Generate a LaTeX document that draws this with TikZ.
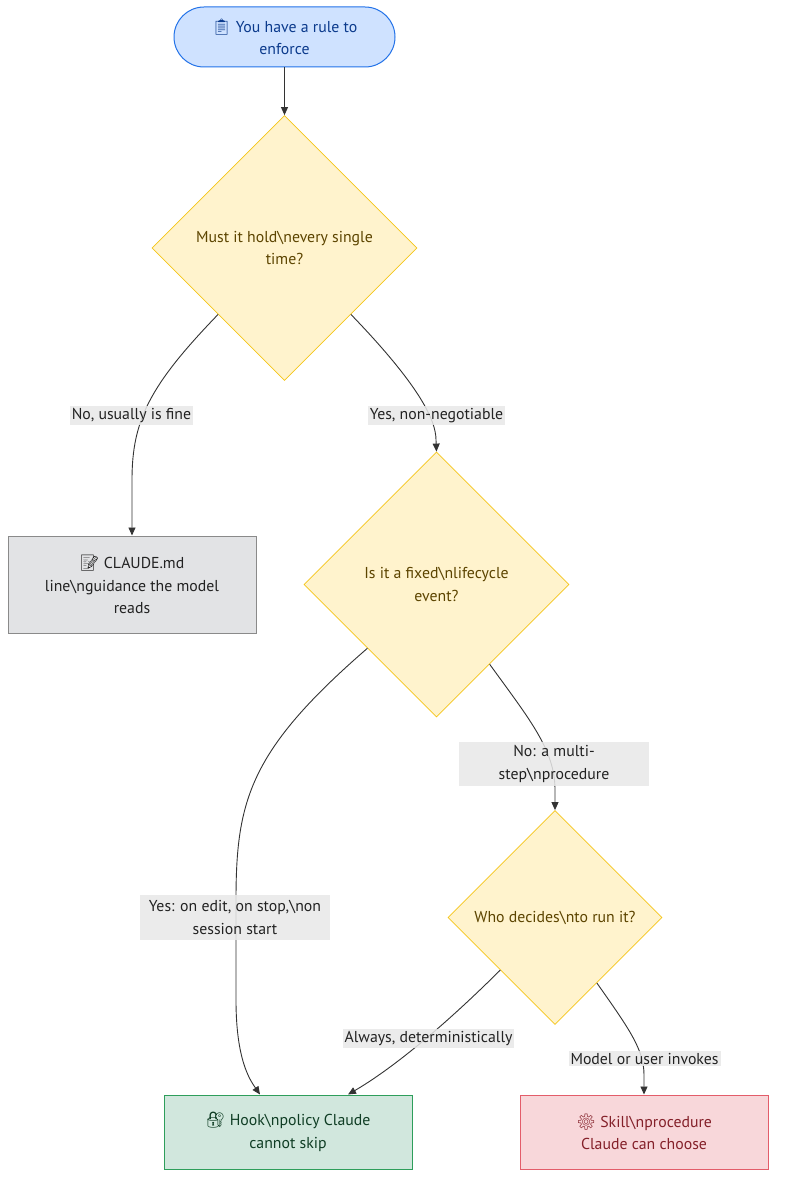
\documentclass[tikz,border=0pt]{standalone}
\usepackage{fontspec}
\setmainfont{PT Sans}
\newfontfamily\emoji{Noto Emoji}
\usetikzlibrary{shapes.geometric,shapes.misc,arrows.meta,calc}
\definecolor{startfill}{HTML}{CFE2FF}
\definecolor{startdraw}{HTML}{2272E8}
\definecolor{starttext}{HTML}{0B3A8C}
\definecolor{decfill}{HTML}{FFF3CD}
\definecolor{decdraw}{HTML}{F5C518}
\definecolor{dectext}{HTML}{5C4400}
\definecolor{greyfill}{HTML}{E2E3E5}
\definecolor{greydraw}{HTML}{8A8A8A}
\definecolor{greytext}{HTML}{222222}
\definecolor{hookfill}{HTML}{D1E7DD}
\definecolor{hookdraw}{HTML}{2E9E5B}
\definecolor{hooktext}{HTML}{0F3D24}
\definecolor{skillfill}{HTML}{F8D7DA}
\definecolor{skilldraw}{HTML}{E35D6A}
\definecolor{skilltext}{HTML}{842029}
\definecolor{edgecol}{HTML}{333333}
\definecolor{lblfill}{HTML}{E8E8E8}
\newcommand{\myBS}{\textbackslash n}
\tikzset{
  every node/.style={font=\fontsize{15.8}{22.5}\selectfont, align=center, inner sep=0pt},
  startnode/.style={rounded rectangle, fill=startfill, draw=startdraw, line width=1pt, text=starttext, minimum width=221pt, minimum height=60pt},
  decnode/.style={diamond, aspect=1, fill=decfill, draw=decdraw, line width=0.8pt, text=dectext},
  boxnode/.style={rectangle, line width=1pt, minimum width=248pt},
  lbl/.style={fill=lblfill, fill opacity=0.85, text opacity=1, text=greytext, inner xsep=2pt, inner ysep=2pt},
  conn/.style={draw=edgecol, line width=0.9pt, -{Triangle[length=8pt,width=7pt]}},
}
\begin{document}
\begin{tikzpicture}[x=1pt,y=-1pt]
\useasboundingbox (0,0) rectangle (784,1190);
\node[startnode] (start) at (284.5,37) {{\emoji 📋} You have a rule to\\enforce};
\node[decnode, minimum size=265pt] (d1) at (284.5,248) {Must it hold\myBS every single\\time?};
\node[decnode, minimum size=265pt] (d2) at (436.5,584.5) {Is it a fixed\myBS lifecycle\\event?};
\node[decnode, minimum size=214pt] (d3) at (555,917.5) {Who decides\myBS to run it?};
\node[boxnode, fill=greyfill, draw=greydraw, text=greytext, minimum height=97pt] (claude) at (132,584.5) {{\emoji 📝} CLAUDE.md\\line\myBS guidance the model\\reads};
\node[boxnode, fill=hookfill, draw=hookdraw, text=hooktext, minimum height=74pt] (hook) at (288,1132) {{\emoji 🔐} Hook\myBS policy Claude\\cannot skip};
\node[boxnode, fill=skillfill, draw=skilldraw, text=skilltext, minimum height=74pt] (skill) at (644,1132) {{\emoji ⚙} Skill\myBS procedure\\Claude can choose};

\coordinate (d1l) at (d1.south west);
\coordinate (d1r) at (d1.south east);
\coordinate (d2l) at ($(d2.west)!0.48!(d2.south)$);
\coordinate (d2r) at ($(d2.east)!0.6!(d2.south)$);
\coordinate (d3l) at ($(d3.west)!0.49!(d3.south)$);
\coordinate (d3r) at ($(d3.east)!0.61!(d3.south)$);
\coordinate (hookl) at ($(hook.north)+(-28,0)$);
\coordinate (hookr) at ($(hook.north)+(60,0)$);

\draw[conn] (start.south) -- (d1.north);
\draw[conn] (d1l) .. controls (150,385) and (132,420) .. (132,480) -- (claude.north);
\draw[conn] (d1r) .. controls (419,385) and (436,420) .. (436,440) -- (d2.north);
\draw[conn] (d2l) .. controls (250,750) and (236,800) .. (236,900) -- (236,1000) .. controls (236,1060) and (250,1080) .. (hookl);
\draw[conn] (d2r) .. controls (530,720) and (555,750) .. (555,790) -- (d3.north);
\draw[conn] (d3l) .. controls (440,1030) and (390,1070) .. (hookr);
\draw[conn] (d3r) .. controls (630,1030) and (644,1050) .. (644,1075) -- (skill.north);

\node[lbl] (l1) at (131.5,415.5) {No, usually is fine};
\node[lbl] (l2) at (436.5,415.5) {Yes, non-negotiable};
\node[lbl, minimum width=190pt, minimum height=44pt] (l3) at (554,764) {No: a multi-\\step\myBS procedure};
\node[lbl, minimum width=190pt, minimum height=45pt] (l4) at (235,917.5) {Yes: on edit, on stop,\myBS on\\session start};
\node[lbl] (l5) at (428.5,1038.5) {Always, deterministically};
\node[lbl] (l6) at (644.5,1058.5) {Model or user invokes};
\end{tikzpicture}
\end{document}
